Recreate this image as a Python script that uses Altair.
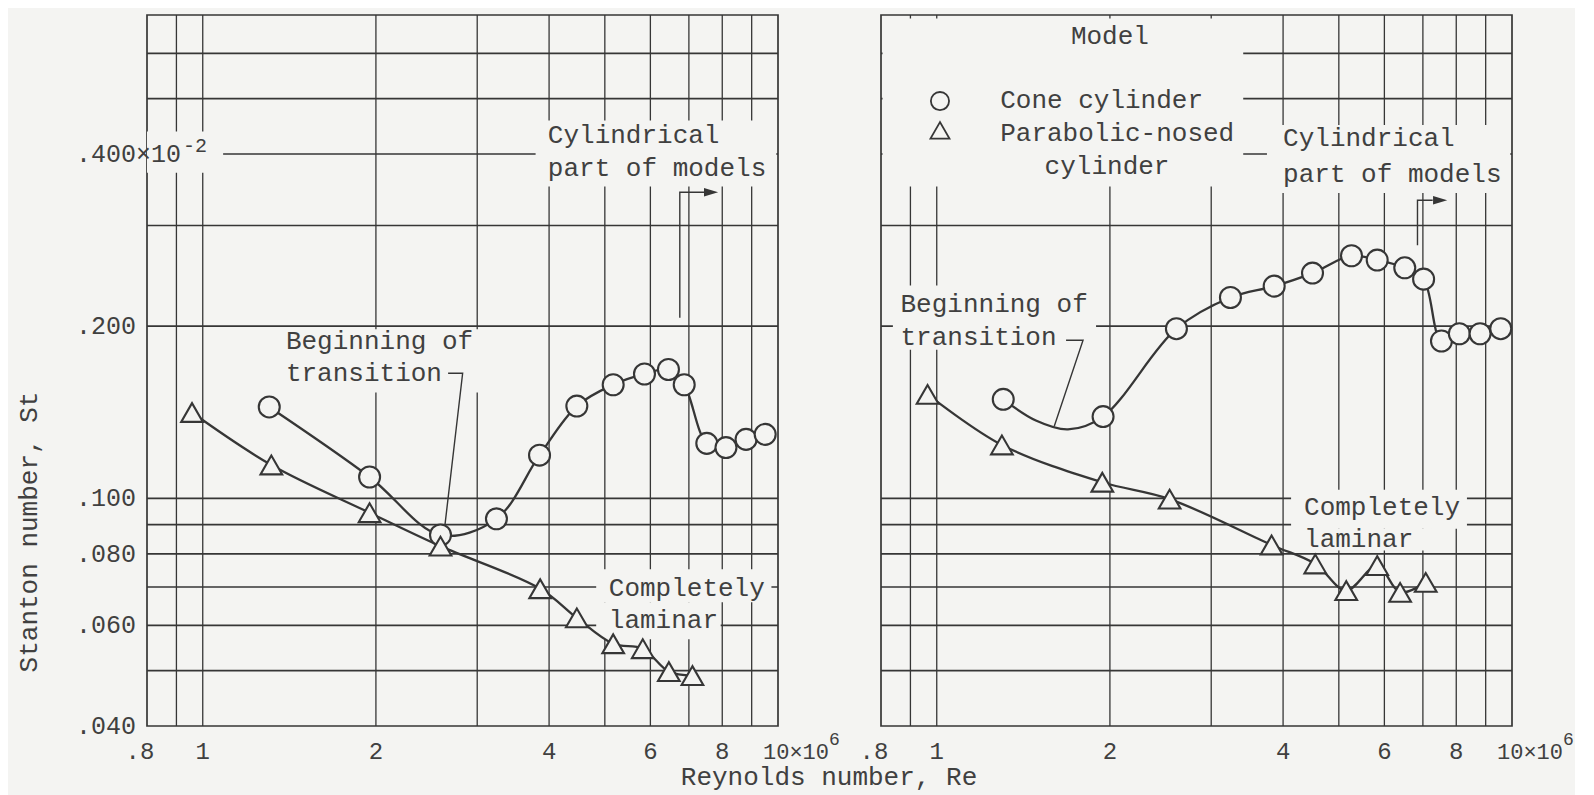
import altair as alt
import pandas as pd

# ---------------- values ----------------
# Left panel
L_CIRCLE_RE = [1.305, 1.95, 2.59, 3.24, 3.85, 4.47, 5.17, 5.86, 6.45, 6.87, 7.52, 8.12, 8.80, 9.50]
L_CIRCLE_ST = [0.1445, 0.109, 0.0863, 0.0921, 0.119, 0.145, 0.158, 0.165, 0.168, 0.158, 0.1248, 0.1227, 0.1268, 0.1294]
L_TRI_RE = [0.958, 1.316, 1.95, 2.59, 3.86, 4.47, 5.17, 5.82, 6.46, 7.10]
L_TRI_ST = [0.1413, 0.1144, 0.0944, 0.0825, 0.0695, 0.0618, 0.0557, 0.0546, 0.0498, 0.0490]
# Right panel
R_CIRCLE_RE = [1.305, 1.946, 2.61, 3.24, 3.86, 4.50, 5.26, 5.83, 6.51, 7.02, 7.54, 8.10, 8.80, 9.56]
R_CIRCLE_ST = [0.149, 0.139, 0.198, 0.2245, 0.235, 0.2477, 0.2656, 0.261, 0.253, 0.2417, 0.1884, 0.194, 0.194, 0.198]
R_TRI_RE = [0.964, 1.298, 1.94, 2.54, 3.82, 4.55, 5.15, 5.83, 6.39, 7.08]
R_TRI_ST = [0.152, 0.124, 0.1067, 0.0997, 0.0829, 0.0768, 0.069, 0.0763, 0.0685, 0.0713]
# the faired curve through the right-panel circles dips between its first two points
R_CIRCLE_DIP_RE = [1.487, 1.691]
R_CIRCLE_DIP_ST = [0.1368, 0.132]

# grid and tick labels
GRID_RE = [0.9, 1, 2, 3, 4, 5, 6, 7, 8, 9]
GRID_ST = [0.05, 0.06, 0.07, 0.08, 0.09, 0.1, 0.2, 0.3, 0.4, 0.5, 0.6]
X_TICKS = [1, 2, 4, 6, 8]
X_TICK_TEXT = ["1", "2", "4", "6", "8"]
Y_TICKS = [0.4, 0.2, 0.1, 0.08, 0.06, 0.04]
Y_TICK_TEXT = [".400\u00d710", ".200", ".100", ".080", ".060", ".040"]

# annotations
L_NOTE_TEXT = ["Cylindrical", "part of models", "Beginning of", "transition", "Completely", "laminar"]
L_NOTE_RE = [3.98, 3.98, 1.395, 1.395, 5.08, 5.08]
L_NOTE_ST = [0.431, 0.3776, 0.1884, 0.1655, 0.0696, 0.0614]
R_NOTE_TEXT = ["Cone cylinder", "Parabolic-nosed", "cylinder", "Cylindrical", "part of models",
               "Beginning of", "transition", "Completely", "laminar"]
R_NOTE_RE = [1.289, 1.289, 1.54, 4.0, 4.0, 0.865, 0.865, 4.35, 4.35]
R_NOTE_ST = [0.497, 0.435, 0.3815, 0.426, 0.369, 0.2185, 0.1917, 0.0964, 0.0848]

# leader lines / arrows (id, Re, St)
L_PATH_ID = ["lead", "lead", "lead", "arrow", "arrow", "arrow"]
L_PATH_RE = [2.67, 2.83, 2.63, 6.75, 6.75, 7.45]
L_PATH_ST = [0.1655, 0.1655, 0.0879, 0.207, 0.343, 0.343]
L_HEAD = (7.65, 0.343)
R_PATH_ID = ["lead", "lead", "lead", "arrow", "arrow", "arrow"]
R_PATH_RE = [1.678, 1.796, 1.60, 6.85, 6.85, 7.28]
R_PATH_ST = [0.189, 0.189, 0.1336, 0.277, 0.332, 0.332]
R_HEAD = (7.50, 0.332)

# paper masks behind the lettering (x0, x1, y0, y1)
L_MASKS = [(0.8, 1.085, 0.371, 0.438), (3.79, 9.93, 0.351, 0.4577), (1.358, 3.12, 0.1532, 0.1975),
           (4.83, 9.74, 0.0658, 0.0752), (4.83, 7.95, 0.0567, 0.0658)]
R_MASKS = [(0.805, 3.41, 0.351, 0.69), (3.75, 9.93, 0.342, 0.4497), (0.839, 1.892, 0.182, 0.2356),
           (4.13, 8.35, 0.0885, 0.1035), (4.13, 7.25, 0.0811, 0.0885)]

# ---------------- styling ----------------
BG = "#f4f4f2"
INK = "#363636"
TXT = "#404040"
FONT = "Liberation Mono"
W, H = 631, 711
XS = alt.Scale(type="log", domain=[0.8, 10])
YS = alt.Scale(type="log", domain=[0.04, 0.7])


def X(f):
    return alt.X(f, type="quantitative", scale=XS, axis=None)


def Y(f):
    return alt.Y(f, type="quantitative", scale=YS, axis=None)


def panel(circ_re, circ_st, curve_re, curve_st, tri_re, tri_st, masks,
          note_t, note_re, note_st, path_id, path_re, path_st, head, left):
    layers = []
    layers.append(alt.Chart(pd.DataFrame({"g": GRID_RE})).mark_rule(color=INK, strokeWidth=1.3).encode(x=X("g")))
    layers.append(alt.Chart(pd.DataFrame({"g": GRID_ST})).mark_rule(color=INK, strokeWidth=1.7).encode(y=Y("g")))
    mdf = pd.DataFrame(masks, columns=["x0", "x1", "y0", "y1"])
    layers.append(alt.Chart(mdf).mark_rect(fill=BG, strokeWidth=0).encode(
        x=X("x0"), x2="x1", y=Y("y0"), y2="y1"))
    # faired curves
    cdf = pd.concat([
        pd.DataFrame({"re": curve_re, "st": curve_st, "s": "c", "i": range(len(curve_re))}),
        pd.DataFrame({"re": tri_re, "st": tri_st, "s": "t", "i": range(len(tri_re))}),
    ])
    layers.append(alt.Chart(cdf).mark_line(interpolate="catmull-rom", color=INK, strokeWidth=2.3).encode(
        x=X("re"), y=Y("st"), detail="s:N", order="i:Q"))
    # leader lines and arrows
    pdf = pd.DataFrame({"id": path_id, "re": path_re, "st": path_st, "i": range(len(path_re))})
    layers.append(alt.Chart(pdf).mark_line(color=INK, strokeWidth=1.4).encode(
        x=X("re"), y=Y("st"), detail="id:N", order="i:Q"))
    layers.append(alt.Chart(pd.DataFrame({"re": [head[0]], "st": [head[1]]})).mark_point(
        shape="M-1,-0.6L1,0L-1,0.6Z", size=200, filled=True, color=INK, opacity=1).encode(
        x=X("re"), y=Y("st")))
    # markers
    layers.append(alt.Chart(pd.DataFrame({"re": circ_re, "st": circ_st})).mark_point(
        shape="circle", size=440, filled=True, fill=BG, stroke=INK, strokeWidth=2.1, opacity=1).encode(
        x=X("re"), y=Y("st")))
    layers.append(alt.Chart(pd.DataFrame({"re": tri_re, "st": tri_st})).mark_point(
        shape="triangle-up", size=470, filled=True, fill=BG, stroke=INK, strokeWidth=2.1, opacity=1).encode(
        x=X("re"), y=Y("st")))
    # notes
    ndf = pd.DataFrame({"t": note_t, "re": note_re, "st": note_st})
    layers.append(alt.Chart(ndf).mark_text(align="left", baseline="middle", font=FONT, fontSize=26,
                                          color=TXT).encode(x=X("re"), y=Y("st"), text="t:N"))
    # x tick labels
    xdf = pd.DataFrame({"v": X_TICKS, "t": X_TICK_TEXT})
    layers.append(alt.Chart(xdf).mark_text(align="center", baseline="middle", font=FONT, fontSize=24,
                                          color=TXT).encode(x=X("v"), y=alt.value(H + 26), text="t:N"))
    layers.append(alt.Chart(pd.DataFrame({"v": [0.8], "t": [".8"]})).mark_text(
        align="center", baseline="middle", font=FONT, fontSize=24, color=TXT, dx=-7).encode(
        x=X("v"), y=alt.value(H + 26), text="t:N"))
    layers.append(alt.Chart(pd.DataFrame({"v": [10], "t": ["10\u00d710"]})).mark_text(
        align="left", baseline="middle", font=FONT, fontSize=22, color=TXT, dx=-15).encode(
        x=X("v"), y=alt.value(H + 26), text="t:N"))
    layers.append(alt.Chart(pd.DataFrame({"v": [10], "t": ["6"]})).mark_text(
        align="left", baseline="middle", font=FONT, fontSize=18, color=TXT, dx=51, dy=-12).encode(
        x=X("v"), y=alt.value(H + 26), text="t:N"))
    if left:
        ydf = pd.DataFrame({"v": Y_TICKS, "t": Y_TICK_TEXT})
        layers.append(alt.Chart(ydf).mark_text(align="left", baseline="middle", font=FONT, fontSize=25,
                                              color=TXT).encode(x=alt.value(-71), y=Y("v"), text="t:N"))
        layers.append(alt.Chart(pd.DataFrame({"v": [0.4], "t": ["-2"]})).mark_text(
            align="left", baseline="middle", font=FONT, fontSize=20, color=TXT, dy=-8).encode(
            x=alt.value(36), y=Y("v"), text="t:N"))
        layers.append(alt.Chart(pd.DataFrame({"t": ["Stanton number, St"]})).mark_text(
            align="center", baseline="middle", font=FONT, fontSize=26, color=TXT, angle=270).encode(
            x=alt.value(-118), y=alt.value(517), text="t:N"))
        layers.append(alt.Chart(pd.DataFrame({"t": ["Reynolds number, Re"]})).mark_text(
            align="center", baseline="middle", font=FONT, fontSize=26, color=TXT).encode(
            x=alt.value(682), y=alt.value(762), text="t:N"))
    else:
        layers.append(alt.Chart(pd.DataFrame({"t": ["Model"], "re": [2.0], "st": [0.643]})).mark_text(
            align="center", baseline="middle", font=FONT, fontSize=26, color=TXT).encode(
            x=X("re"), y=Y("st"), text="t:N"))
        layers.append(alt.Chart(pd.DataFrame({"re": [1.013], "st": [0.495]})).mark_point(
            shape="circle", size=330, filled=True, fill=BG, stroke=INK, strokeWidth=1.8, opacity=1).encode(
            x=X("re"), y=Y("st")))
        layers.append(alt.Chart(pd.DataFrame({"re": [1.013], "st": [0.44]})).mark_point(
            shape="triangle-up", size=360, filled=True, fill=BG, stroke=INK, strokeWidth=1.8, opacity=1).encode(
            x=X("re"), y=Y("st")))
    return alt.layer(*layers).properties(width=W, height=H)


left = panel(L_CIRCLE_RE, L_CIRCLE_ST, L_CIRCLE_RE, L_CIRCLE_ST, L_TRI_RE, L_TRI_ST, L_MASKS,
             L_NOTE_TEXT, L_NOTE_RE, L_NOTE_ST, L_PATH_ID, L_PATH_RE, L_PATH_ST, L_HEAD, True)
r_curve_re = [R_CIRCLE_RE[0]] + R_CIRCLE_DIP_RE + R_CIRCLE_RE[1:]
r_curve_st = [R_CIRCLE_ST[0]] + R_CIRCLE_DIP_ST + R_CIRCLE_ST[1:]
right = panel(R_CIRCLE_RE, R_CIRCLE_ST, r_curve_re, r_curve_st, R_TRI_RE, R_TRI_ST, R_MASKS,
              R_NOTE_TEXT, R_NOTE_RE, R_NOTE_ST, R_PATH_ID, R_PATH_RE, R_PATH_ST, R_HEAD, False)

chart = alt.hconcat(left, right, spacing=103, bounds="flush").properties(
    padding={"left": 7, "top": 5, "right": 0, "bottom": 6},
    background=BG,
).configure_view(stroke=INK, strokeWidth=1.7)

chart.save("out.html", embed_options={"renderer": "svg", "actions": False})
